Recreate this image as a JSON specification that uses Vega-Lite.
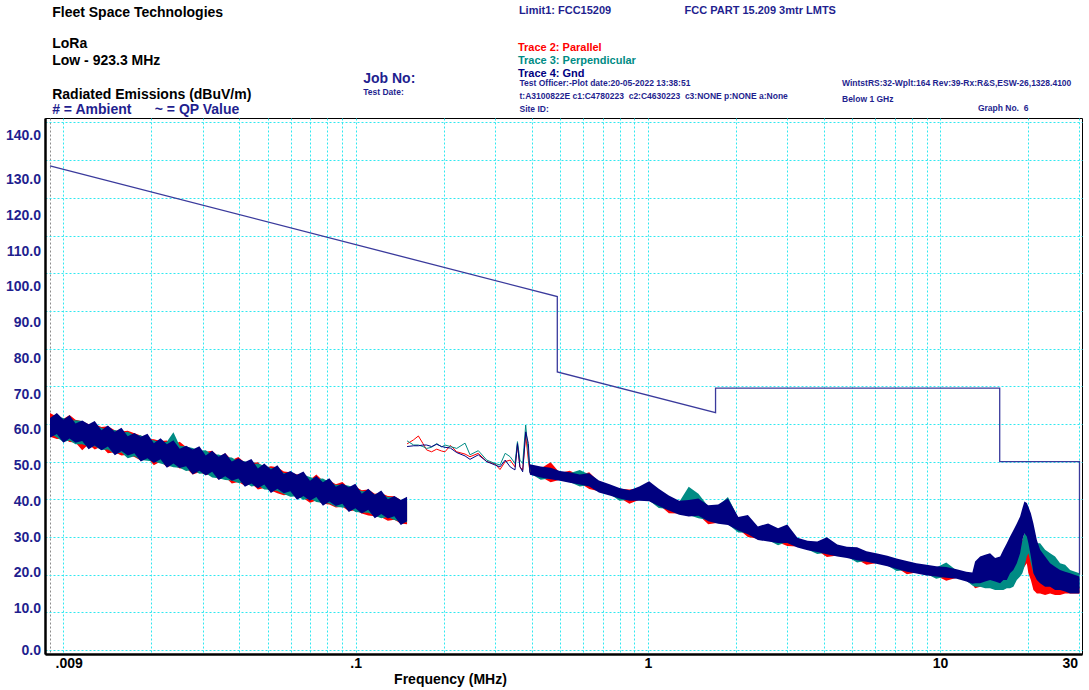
{
  "$schema": "https://vega.github.io/schema/vega-lite/v6.json",
  "width": 1037,
  "height": 536,
  "autosize": {"type": "none"},
  "padding": {"left": 45, "top": 118, "right": 7, "bottom": 36},
  "background": "#ffffff",
  "config": {
    "font": "Liberation Sans",
    "view": {"stroke": "#000000", "strokeWidth": 1}
  },
  "datasets": {
    "bands": [
      {"f":0.009,"s":"Parallel","seg":1,"lo":56.6,"hi":62.9},{"f":0.0095,"s":"Parallel","seg":1,"lo":56.0,"hi":61.9},{"f":0.01,"s":"Parallel","seg":1,"lo":56.1,"hi":61.3},{"f":0.0105,"s":"Parallel","seg":1,"lo":55.2,"hi":62.4},{"f":0.011,"s":"Parallel","seg":1,"lo":55.1,"hi":61.1},{"f":0.0116,"s":"Parallel","seg":1,"lo":53.0,"hi":60.7},{"f":0.0122,"s":"Parallel","seg":1,"lo":54.6,"hi":59.9},{"f":0.0128,"s":"Parallel","seg":1,"lo":53.2,"hi":59.9},{"f":0.0135,"s":"Parallel","seg":1,"lo":54.0,"hi":59.2},{"f":0.0142,"s":"Parallel","seg":1,"lo":52.2,"hi":59.4},{"f":0.015,"s":"Parallel","seg":1,"lo":52.5,"hi":58.3},{"f":0.0158,"s":"Parallel","seg":1,"lo":51.6,"hi":58.0},{"f":0.0166,"s":"Parallel","seg":1,"lo":51.8,"hi":58.2},{"f":0.0175,"s":"Parallel","seg":1,"lo":51.2,"hi":57.5},{"f":0.0184,"s":"Parallel","seg":1,"lo":50.3,"hi":56.9},{"f":0.0194,"s":"Parallel","seg":1,"lo":51.0,"hi":56.0},{"f":0.0204,"s":"Parallel","seg":1,"lo":49.0,"hi":55.9},{"f":0.0215,"s":"Parallel","seg":1,"lo":50.0,"hi":55.5},{"f":0.0226,"s":"Parallel","seg":1,"lo":48.6,"hi":55.6},{"f":0.0238,"s":"Parallel","seg":1,"lo":49.0,"hi":54.5},{"f":0.025,"s":"Parallel","seg":1,"lo":48.2,"hi":55.3},{"f":0.0263,"s":"Parallel","seg":1,"lo":48.3,"hi":53.9},{"f":0.0277,"s":"Parallel","seg":1,"lo":46.6,"hi":53.0},{"f":0.0292,"s":"Parallel","seg":1,"lo":47.2,"hi":53.1},{"f":0.0307,"s":"Parallel","seg":1,"lo":46.5,"hi":52.6},{"f":0.0323,"s":"Parallel","seg":1,"lo":46.4,"hi":52.9},{"f":0.034,"s":"Parallel","seg":1,"lo":45.3,"hi":51.2},{"f":0.0358,"s":"Parallel","seg":1,"lo":45.9,"hi":52.2},{"f":0.0377,"s":"Parallel","seg":1,"lo":44.2,"hi":50.4},{"f":0.0397,"s":"Parallel","seg":1,"lo":44.6,"hi":51.2},{"f":0.0418,"s":"Parallel","seg":1,"lo":43.6,"hi":49.7},{"f":0.044,"s":"Parallel","seg":1,"lo":44.2,"hi":49.6},{"f":0.0463,"s":"Parallel","seg":1,"lo":42.6,"hi":49.8},{"f":0.0487,"s":"Parallel","seg":1,"lo":43.0,"hi":48.3},{"f":0.0513,"s":"Parallel","seg":1,"lo":42.3,"hi":48.8},{"f":0.054,"s":"Parallel","seg":1,"lo":41.6,"hi":48.5},{"f":0.0568,"s":"Parallel","seg":1,"lo":41.1,"hi":47.4},{"f":0.0598,"s":"Parallel","seg":1,"lo":41.4,"hi":47.2},{"f":0.063,"s":"Parallel","seg":1,"lo":40.6,"hi":46.6},{"f":0.0663,"s":"Parallel","seg":1,"lo":40.3,"hi":46.9},{"f":0.0698,"s":"Parallel","seg":1,"lo":39.1,"hi":45.2},{"f":0.0734,"s":"Parallel","seg":1,"lo":39.7,"hi":46.6},{"f":0.0773,"s":"Parallel","seg":1,"lo":38.8,"hi":44.9},{"f":0.0813,"s":"Parallel","seg":1,"lo":38.6,"hi":45.0},{"f":0.0856,"s":"Parallel","seg":1,"lo":37.8,"hi":44.0},{"f":0.0901,"s":"Parallel","seg":1,"lo":38.0,"hi":44.6},{"f":0.0948,"s":"Parallel","seg":1,"lo":36.9,"hi":43.0},{"f":0.0998,"s":"Parallel","seg":1,"lo":37.0,"hi":43.3},{"f":0.105,"s":"Parallel","seg":1,"lo":36.2,"hi":42.4},{"f":0.1105,"s":"Parallel","seg":1,"lo":35.7,"hi":42.6},{"f":0.1163,"s":"Parallel","seg":1,"lo":35.5,"hi":41.5},{"f":0.1224,"s":"Parallel","seg":1,"lo":35.2,"hi":41.6},{"f":0.1289,"s":"Parallel","seg":1,"lo":34.3,"hi":40.9},{"f":0.1357,"s":"Parallel","seg":1,"lo":34.6,"hi":40.8},{"f":0.1428,"s":"Parallel","seg":1,"lo":33.6,"hi":39.8},{"f":0.15,"s":"Parallel","seg":1,"lo":33.4,"hi":39.4},
      {"f":0.395,"s":"Parallel","seg":2,"lo":46.8,"hi":48.8},{"f":0.43,"s":"Parallel","seg":2,"lo":46.0,"hi":48.2},{"f":0.465,"s":"Parallel","seg":2,"lo":44.5,"hi":49.8},{"f":0.5,"s":"Parallel","seg":2,"lo":45.2,"hi":47.0},{"f":0.54,"s":"Parallel","seg":2,"lo":44.6,"hi":47.6},{"f":0.585,"s":"Parallel","seg":2,"lo":44.3,"hi":46.4},{"f":0.63,"s":"Parallel","seg":2,"lo":42.7,"hi":47.2},{"f":0.68,"s":"Parallel","seg":2,"lo":42.1,"hi":44.6},{"f":0.74,"s":"Parallel","seg":2,"lo":41.3,"hi":43.6},{"f":0.8,"s":"Parallel","seg":2,"lo":40.4,"hi":42.8},{"f":0.865,"s":"Parallel","seg":2,"lo":38.8,"hi":42.6},{"f":0.935,"s":"Parallel","seg":2,"lo":39.9,"hi":42.8},{"f":1.01,"s":"Parallel","seg":2,"lo":39.7,"hi":44.0},{"f":1.09,"s":"Parallel","seg":2,"lo":38.6,"hi":42.2},{"f":1.18,"s":"Parallel","seg":2,"lo":36.3,"hi":40.6},{"f":1.28,"s":"Parallel","seg":2,"lo":36.2,"hi":39.3},{"f":1.38,"s":"Parallel","seg":2,"lo":35.7,"hi":40.8},{"f":1.49,"s":"Parallel","seg":2,"lo":35.8,"hi":39.6},{"f":1.61,"s":"Parallel","seg":2,"lo":33.4,"hi":38.0},{"f":1.74,"s":"Parallel","seg":2,"lo":33.8,"hi":38.2},{"f":1.88,"s":"Parallel","seg":2,"lo":33.4,"hi":39.4},{"f":2.04,"s":"Parallel","seg":2,"lo":32.1,"hi":34.8},{"f":2.2,"s":"Parallel","seg":2,"lo":30.0,"hi":34.5},{"f":2.38,"s":"Parallel","seg":2,"lo":29.5,"hi":32.4},{"f":2.58,"s":"Parallel","seg":2,"lo":29.1,"hi":32.8},{"f":2.79,"s":"Parallel","seg":2,"lo":28.6,"hi":32.0},{"f":3.0,"s":"Parallel","seg":2,"lo":27.6,"hi":32.4},{"f":3.25,"s":"Parallel","seg":2,"lo":27.5,"hi":29.6},{"f":3.52,"s":"Parallel","seg":2,"lo":26.7,"hi":28.6},{"f":3.8,"s":"Parallel","seg":2,"lo":26.4,"hi":28.4},{"f":4.1,"s":"Parallel","seg":2,"lo":24.7,"hi":28.8},{"f":4.45,"s":"Parallel","seg":2,"lo":25.1,"hi":27.9},{"f":4.8,"s":"Parallel","seg":2,"lo":24.7,"hi":27.0},{"f":5.2,"s":"Parallel","seg":2,"lo":24.0,"hi":26.8},{"f":5.6,"s":"Parallel","seg":2,"lo":22.6,"hi":25.8},{"f":6.1,"s":"Parallel","seg":2,"lo":23.1,"hi":25.3},{"f":6.6,"s":"Parallel","seg":2,"lo":22.4,"hi":24.6},{"f":7.1,"s":"Parallel","seg":2,"lo":21.9,"hi":23.9},{"f":7.7,"s":"Parallel","seg":2,"lo":20.1,"hi":23.2},{"f":8.3,"s":"Parallel","seg":2,"lo":20.6,"hi":22.6},{"f":9.0,"s":"Parallel","seg":2,"lo":20.1,"hi":22.1},{"f":9.7,"s":"Parallel","seg":2,"lo":19.7,"hi":21.7},{"f":10.5,"s":"Parallel","seg":2,"lo":18.4,"hi":21.5},{"f":11.4,"s":"Parallel","seg":2,"lo":19.2,"hi":21.0},{"f":12.3,"s":"Parallel","seg":2,"lo":18.4,"hi":20.4},{"f":12.9,"s":"Parallel","seg":2,"lo":17.4,"hi":20.0},{"f":13.18,"s":"Parallel","seg":2,"lo":16.4,"hi":18.6},{"f":13.71,"s":"Parallel","seg":2,"lo":16.8,"hi":18.6},{"f":14.26,"s":"Parallel","seg":2,"lo":16.8,"hi":18.6},{"f":14.83,"s":"Parallel","seg":2,"lo":16.8,"hi":19.1},{"f":15.43,"s":"Parallel","seg":2,"lo":16.4,"hi":18.6},{"f":16.05,"s":"Parallel","seg":2,"lo":16.4,"hi":18.6},{"f":16.47,"s":"Parallel","seg":2,"lo":16.8,"hi":19.5},{"f":16.92,"s":"Parallel","seg":2,"lo":17.7,"hi":21.2},{"f":17.36,"s":"Parallel","seg":2,"lo":18.2,"hi":23.9},{"f":17.82,"s":"Parallel","seg":2,"lo":18.6,"hi":26.6},{"f":18.31,"s":"Parallel","seg":2,"lo":19.9,"hi":27.4},{"f":18.79,"s":"Parallel","seg":2,"lo":20.4,"hi":28.3},{"f":19.13,"s":"Parallel","seg":2,"lo":21.2,"hi":29.2},{"f":19.44,"s":"Parallel","seg":2,"lo":22.1,"hi":30.1},{"f":19.81,"s":"Parallel","seg":2,"lo":23.0,"hi":29.6},{"f":20.06,"s":"Parallel","seg":2,"lo":20.4,"hi":29.2},{"f":20.45,"s":"Parallel","seg":2,"lo":18.6,"hi":25.7},{"f":20.87,"s":"Parallel","seg":2,"lo":15.9,"hi":23.0},{"f":21.44,"s":"Parallel","seg":2,"lo":15.0,"hi":21.2},{"f":22.0,"s":"Parallel","seg":2,"lo":15.0,"hi":20.4},{"f":22.88,"s":"Parallel","seg":2,"lo":14.6,"hi":19.5},{"f":23.8,"s":"Parallel","seg":2,"lo":15.0,"hi":18.6},{"f":24.75,"s":"Parallel","seg":2,"lo":14.6,"hi":18.2},{"f":25.75,"s":"Parallel","seg":2,"lo":14.6,"hi":17.7},{"f":26.78,"s":"Parallel","seg":2,"lo":15.0,"hi":17.7},{"f":27.86,"s":"Parallel","seg":2,"lo":15.0,"hi":17.7},{"f":28.98,"s":"Parallel","seg":2,"lo":15.0,"hi":17.2},{"f":30.0,"s":"Parallel","seg":2,"lo":15.0,"hi":16.8},
      {"f":0.009,"s":"Perpendicular","seg":1,"lo":57.5,"hi":61.6},{"f":0.0095,"s":"Perpendicular","seg":1,"lo":56.4,"hi":62.0},{"f":0.01,"s":"Perpendicular","seg":1,"lo":55.2,"hi":61.6},{"f":0.0105,"s":"Perpendicular","seg":1,"lo":55.6,"hi":60.8},{"f":0.011,"s":"Perpendicular","seg":1,"lo":54.6,"hi":61.0},{"f":0.0116,"s":"Perpendicular","seg":1,"lo":54.6,"hi":60.8},{"f":0.0122,"s":"Perpendicular","seg":1,"lo":54.0,"hi":59.6},{"f":0.0128,"s":"Perpendicular","seg":1,"lo":54.1,"hi":59.5},{"f":0.0135,"s":"Perpendicular","seg":1,"lo":53.1,"hi":59.0},{"f":0.0142,"s":"Perpendicular","seg":1,"lo":53.2,"hi":58.2},{"f":0.015,"s":"Perpendicular","seg":1,"lo":52.0,"hi":58.4},{"f":0.0158,"s":"Perpendicular","seg":1,"lo":52.4,"hi":57.6},{"f":0.0166,"s":"Perpendicular","seg":1,"lo":50.9,"hi":57.9},{"f":0.0175,"s":"Perpendicular","seg":1,"lo":51.4,"hi":57.0},{"f":0.0184,"s":"Perpendicular","seg":1,"lo":50.4,"hi":57.0},{"f":0.0194,"s":"Perpendicular","seg":1,"lo":50.2,"hi":55.8},{"f":0.0204,"s":"Perpendicular","seg":1,"lo":50.0,"hi":55.7},{"f":0.0215,"s":"Perpendicular","seg":1,"lo":49.5,"hi":55.1},{"f":0.0226,"s":"Perpendicular","seg":1,"lo":49.0,"hi":55.3},{"f":0.0238,"s":"Perpendicular","seg":1,"lo":48.5,"hi":57.8},{"f":0.025,"s":"Perpendicular","seg":1,"lo":48.4,"hi":54.2},{"f":0.0263,"s":"Perpendicular","seg":1,"lo":47.5,"hi":54.0},{"f":0.0277,"s":"Perpendicular","seg":1,"lo":47.8,"hi":53.6},{"f":0.0292,"s":"Perpendicular","seg":1,"lo":46.8,"hi":52.9},{"f":0.0307,"s":"Perpendicular","seg":1,"lo":46.9,"hi":53.0},{"f":0.0323,"s":"Perpendicular","seg":1,"lo":45.8,"hi":51.8},{"f":0.034,"s":"Perpendicular","seg":1,"lo":45.6,"hi":51.9},{"f":0.0358,"s":"Perpendicular","seg":1,"lo":45.1,"hi":51.2},{"f":0.0377,"s":"Perpendicular","seg":1,"lo":45.0,"hi":51.1},{"f":0.0397,"s":"Perpendicular","seg":1,"lo":44.3,"hi":50.0},{"f":0.0418,"s":"Perpendicular","seg":1,"lo":44.5,"hi":50.1},{"f":0.044,"s":"Perpendicular","seg":1,"lo":43.4,"hi":49.3},{"f":0.0463,"s":"Perpendicular","seg":1,"lo":43.7,"hi":49.5},{"f":0.0487,"s":"Perpendicular","seg":1,"lo":42.6,"hi":48.9},{"f":0.0513,"s":"Perpendicular","seg":1,"lo":42.5,"hi":48.3},{"f":0.054,"s":"Perpendicular","seg":1,"lo":42.2,"hi":48.0},{"f":0.0568,"s":"Perpendicular","seg":1,"lo":41.4,"hi":47.0},{"f":0.0598,"s":"Perpendicular","seg":1,"lo":40.7,"hi":47.0},{"f":0.063,"s":"Perpendicular","seg":1,"lo":40.8,"hi":46.3},{"f":0.0663,"s":"Perpendicular","seg":1,"lo":39.9,"hi":46.5},{"f":0.0698,"s":"Perpendicular","seg":1,"lo":40.2,"hi":45.9},{"f":0.0734,"s":"Perpendicular","seg":1,"lo":39.3,"hi":45.4},{"f":0.0773,"s":"Perpendicular","seg":1,"lo":39.0,"hi":45.5},{"f":0.0813,"s":"Perpendicular","seg":1,"lo":38.9,"hi":44.6},{"f":0.0856,"s":"Perpendicular","seg":1,"lo":38.0,"hi":43.8},{"f":0.0901,"s":"Perpendicular","seg":1,"lo":37.8,"hi":43.9},{"f":0.0948,"s":"Perpendicular","seg":1,"lo":37.9,"hi":43.6},{"f":0.0998,"s":"Perpendicular","seg":1,"lo":36.6,"hi":43.0},{"f":0.105,"s":"Perpendicular","seg":1,"lo":36.5,"hi":42.1},{"f":0.1105,"s":"Perpendicular","seg":1,"lo":36.4,"hi":42.2},{"f":0.1163,"s":"Perpendicular","seg":1,"lo":35.6,"hi":41.3},{"f":0.1224,"s":"Perpendicular","seg":1,"lo":35.0,"hi":41.3},{"f":0.1289,"s":"Perpendicular","seg":1,"lo":35.3,"hi":40.6},{"f":0.1357,"s":"Perpendicular","seg":1,"lo":34.5,"hi":40.6},{"f":0.1428,"s":"Perpendicular","seg":1,"lo":34.0,"hi":39.4},{"f":0.15,"s":"Perpendicular","seg":1,"lo":33.9,"hi":39.8},
      {"f":0.395,"s":"Perpendicular","seg":2,"lo":46.9,"hi":49.0},{"f":0.43,"s":"Perpendicular","seg":2,"lo":45.2,"hi":48.4},{"f":0.465,"s":"Perpendicular","seg":2,"lo":45.6,"hi":48.1},{"f":0.5,"s":"Perpendicular","seg":2,"lo":45.4,"hi":47.2},{"f":0.54,"s":"Perpendicular","seg":2,"lo":44.6,"hi":46.9},{"f":0.585,"s":"Perpendicular","seg":2,"lo":43.4,"hi":47.8},{"f":0.63,"s":"Perpendicular","seg":2,"lo":43.8,"hi":46.6},{"f":0.68,"s":"Perpendicular","seg":2,"lo":42.1,"hi":44.7},{"f":0.74,"s":"Perpendicular","seg":2,"lo":41.4,"hi":43.7},{"f":0.8,"s":"Perpendicular","seg":2,"lo":39.6,"hi":42.7},{"f":0.865,"s":"Perpendicular","seg":2,"lo":39.9,"hi":42.1},{"f":0.935,"s":"Perpendicular","seg":2,"lo":40.1,"hi":43.1},{"f":1.01,"s":"Perpendicular","seg":2,"lo":39.7,"hi":44.2},{"f":1.09,"s":"Perpendicular","seg":2,"lo":37.7,"hi":42.5},{"f":1.18,"s":"Perpendicular","seg":2,"lo":37.4,"hi":40.7},{"f":1.28,"s":"Perpendicular","seg":2,"lo":36.2,"hi":39.3},{"f":1.38,"s":"Perpendicular","seg":2,"lo":35.8,"hi":43.3},{"f":1.49,"s":"Perpendicular","seg":2,"lo":35.0,"hi":41.5},{"f":1.61,"s":"Perpendicular","seg":2,"lo":34.5,"hi":38.1},{"f":1.74,"s":"Perpendicular","seg":2,"lo":34.0,"hi":38.3},{"f":1.88,"s":"Perpendicular","seg":2,"lo":33.4,"hi":40.6},{"f":2.04,"s":"Perpendicular","seg":2,"lo":31.2,"hi":35.0},{"f":2.2,"s":"Perpendicular","seg":2,"lo":31.1,"hi":35.0},{"f":2.38,"s":"Perpendicular","seg":2,"lo":29.5,"hi":32.5},{"f":2.58,"s":"Perpendicular","seg":2,"lo":29.2,"hi":33.3},{"f":2.79,"s":"Perpendicular","seg":2,"lo":27.8,"hi":32.0},{"f":3.0,"s":"Perpendicular","seg":2,"lo":28.7,"hi":32.8},{"f":3.25,"s":"Perpendicular","seg":2,"lo":27.7,"hi":29.5},{"f":3.52,"s":"Perpendicular","seg":2,"lo":26.7,"hi":28.7},{"f":3.8,"s":"Perpendicular","seg":2,"lo":25.5,"hi":28.5},{"f":4.1,"s":"Perpendicular","seg":2,"lo":25.8,"hi":29.2},{"f":4.45,"s":"Perpendicular","seg":2,"lo":25.1,"hi":27.7},{"f":4.8,"s":"Perpendicular","seg":2,"lo":24.8,"hi":27.1},{"f":5.2,"s":"Perpendicular","seg":2,"lo":23.2,"hi":27.0},{"f":5.6,"s":"Perpendicular","seg":2,"lo":23.7,"hi":25.9},{"f":6.1,"s":"Perpendicular","seg":2,"lo":23.3,"hi":25.3},{"f":6.6,"s":"Perpendicular","seg":2,"lo":22.4,"hi":24.7},{"f":7.1,"s":"Perpendicular","seg":2,"lo":21.0,"hi":24.0},{"f":7.7,"s":"Perpendicular","seg":2,"lo":21.2,"hi":23.3},{"f":8.3,"s":"Perpendicular","seg":2,"lo":20.6,"hi":22.7},{"f":9.0,"s":"Perpendicular","seg":2,"lo":20.2,"hi":22.3},{"f":9.7,"s":"Perpendicular","seg":2,"lo":18.9,"hi":21.9},{"f":10.5,"s":"Perpendicular","seg":2,"lo":19.5,"hi":23.2},{"f":11.4,"s":"Perpendicular","seg":2,"lo":19.4,"hi":21.1},{"f":12.3,"s":"Perpendicular","seg":2,"lo":18.4,"hi":20.5},{"f":12.9,"s":"Perpendicular","seg":2,"lo":17.1,"hi":20.3},{"f":13.18,"s":"Perpendicular","seg":2,"lo":16.8,"hi":20.4},{"f":13.71,"s":"Perpendicular","seg":2,"lo":16.8,"hi":20.8},{"f":14.26,"s":"Perpendicular","seg":2,"lo":16.4,"hi":20.4},{"f":14.83,"s":"Perpendicular","seg":2,"lo":16.4,"hi":20.8},{"f":15.43,"s":"Perpendicular","seg":2,"lo":15.9,"hi":19.5},{"f":16.05,"s":"Perpendicular","seg":2,"lo":15.9,"hi":19.5},{"f":16.47,"s":"Perpendicular","seg":2,"lo":15.9,"hi":19.9},{"f":16.92,"s":"Perpendicular","seg":2,"lo":16.4,"hi":20.4},{"f":17.36,"s":"Perpendicular","seg":2,"lo":16.4,"hi":20.8},{"f":17.82,"s":"Perpendicular","seg":2,"lo":16.8,"hi":22.1},{"f":18.31,"s":"Perpendicular","seg":2,"lo":18.6,"hi":24.8},{"f":18.79,"s":"Perpendicular","seg":2,"lo":19.5,"hi":26.6},{"f":19.13,"s":"Perpendicular","seg":2,"lo":20.4,"hi":29.2},{"f":19.44,"s":"Perpendicular","seg":2,"lo":22.1,"hi":31.0},{"f":19.81,"s":"Perpendicular","seg":2,"lo":24.8,"hi":32.3},{"f":20.06,"s":"Perpendicular","seg":2,"lo":25.7,"hi":33.2},{"f":20.45,"s":"Perpendicular","seg":2,"lo":23.0,"hi":31.8},{"f":20.87,"s":"Perpendicular","seg":2,"lo":20.4,"hi":29.2},{"f":21.44,"s":"Perpendicular","seg":2,"lo":19.5,"hi":28.3},{"f":22.0,"s":"Perpendicular","seg":2,"lo":18.6,"hi":28.3},{"f":22.88,"s":"Perpendicular","seg":2,"lo":18.6,"hi":26.6},{"f":23.8,"s":"Perpendicular","seg":2,"lo":18.6,"hi":25.7},{"f":24.75,"s":"Perpendicular","seg":2,"lo":17.7,"hi":24.8},{"f":25.75,"s":"Perpendicular","seg":2,"lo":16.8,"hi":23.0},{"f":26.78,"s":"Perpendicular","seg":2,"lo":16.8,"hi":22.6},{"f":27.86,"s":"Perpendicular","seg":2,"lo":16.8,"hi":21.2},{"f":28.98,"s":"Perpendicular","seg":2,"lo":16.4,"hi":20.8},{"f":30.0,"s":"Perpendicular","seg":2,"lo":16.4,"hi":20.4},
      {"f":0.009,"s":"Gnd","seg":1,"lo":56.3,"hi":61.6},{"f":0.0095,"s":"Gnd","seg":1,"lo":57.3,"hi":62.9},{"f":0.01,"s":"Gnd","seg":1,"lo":55.0,"hi":61.2},{"f":0.0105,"s":"Gnd","seg":1,"lo":56.1,"hi":62.3},{"f":0.011,"s":"Gnd","seg":1,"lo":55.0,"hi":60.1},{"f":0.0116,"s":"Gnd","seg":1,"lo":55.5,"hi":60.9},{"f":0.0122,"s":"Gnd","seg":1,"lo":53.3,"hi":59.9},{"f":0.0128,"s":"Gnd","seg":1,"lo":54.3,"hi":60.8},{"f":0.0135,"s":"Gnd","seg":1,"lo":53.0,"hi":58.3},{"f":0.0142,"s":"Gnd","seg":1,"lo":54.0,"hi":59.6},{"f":0.015,"s":"Gnd","seg":1,"lo":51.7,"hi":57.9},{"f":0.0158,"s":"Gnd","seg":1,"lo":52.8,"hi":59.0},{"f":0.0166,"s":"Gnd","seg":1,"lo":51.6,"hi":56.7},{"f":0.0175,"s":"Gnd","seg":1,"lo":52.2,"hi":57.6},{"f":0.0184,"s":"Gnd","seg":1,"lo":50.0,"hi":56.6},{"f":0.0194,"s":"Gnd","seg":1,"lo":50.9,"hi":57.4},{"f":0.0204,"s":"Gnd","seg":1,"lo":49.6,"hi":54.9},{"f":0.0215,"s":"Gnd","seg":1,"lo":50.6,"hi":56.2},{"f":0.0226,"s":"Gnd","seg":1,"lo":48.4,"hi":54.6},{"f":0.0238,"s":"Gnd","seg":1,"lo":49.5,"hi":55.7},{"f":0.025,"s":"Gnd","seg":1,"lo":48.3,"hi":53.4},{"f":0.0263,"s":"Gnd","seg":1,"lo":48.8,"hi":54.2},{"f":0.0277,"s":"Gnd","seg":1,"lo":46.6,"hi":53.2},{"f":0.0292,"s":"Gnd","seg":1,"lo":47.6,"hi":54.1},{"f":0.0307,"s":"Gnd","seg":1,"lo":46.3,"hi":51.6},{"f":0.0323,"s":"Gnd","seg":1,"lo":47.3,"hi":52.9},{"f":0.034,"s":"Gnd","seg":1,"lo":45.1,"hi":51.3},{"f":0.0358,"s":"Gnd","seg":1,"lo":46.1,"hi":52.3},{"f":0.0377,"s":"Gnd","seg":1,"lo":44.9,"hi":50.0},{"f":0.0397,"s":"Gnd","seg":1,"lo":45.5,"hi":50.9},{"f":0.0418,"s":"Gnd","seg":1,"lo":43.3,"hi":49.9},{"f":0.044,"s":"Gnd","seg":1,"lo":44.2,"hi":50.7},{"f":0.0463,"s":"Gnd","seg":1,"lo":42.9,"hi":48.2},{"f":0.0487,"s":"Gnd","seg":1,"lo":43.9,"hi":49.5},{"f":0.0513,"s":"Gnd","seg":1,"lo":41.7,"hi":47.9},{"f":0.054,"s":"Gnd","seg":1,"lo":42.8,"hi":49.0},{"f":0.0568,"s":"Gnd","seg":1,"lo":41.6,"hi":46.7},{"f":0.0598,"s":"Gnd","seg":1,"lo":42.1,"hi":47.5},{"f":0.063,"s":"Gnd","seg":1,"lo":39.9,"hi":46.5},{"f":0.0663,"s":"Gnd","seg":1,"lo":40.9,"hi":47.4},{"f":0.0698,"s":"Gnd","seg":1,"lo":39.6,"hi":44.9},{"f":0.0734,"s":"Gnd","seg":1,"lo":40.6,"hi":46.2},{"f":0.0773,"s":"Gnd","seg":1,"lo":38.3,"hi":44.5},{"f":0.0813,"s":"Gnd","seg":1,"lo":39.4,"hi":45.6},{"f":0.0856,"s":"Gnd","seg":1,"lo":38.2,"hi":43.3},{"f":0.0901,"s":"Gnd","seg":1,"lo":38.8,"hi":44.2},{"f":0.0948,"s":"Gnd","seg":1,"lo":36.6,"hi":43.2},{"f":0.0998,"s":"Gnd","seg":1,"lo":37.6,"hi":44.1},{"f":0.105,"s":"Gnd","seg":1,"lo":36.2,"hi":41.5},{"f":0.1105,"s":"Gnd","seg":1,"lo":37.2,"hi":42.8},{"f":0.1163,"s":"Gnd","seg":1,"lo":35.0,"hi":41.2},{"f":0.1224,"s":"Gnd","seg":1,"lo":36.1,"hi":42.3},{"f":0.1289,"s":"Gnd","seg":1,"lo":34.9,"hi":40.0},{"f":0.1357,"s":"Gnd","seg":1,"lo":35.5,"hi":40.9},{"f":0.1428,"s":"Gnd","seg":1,"lo":33.2,"hi":39.8},{"f":0.15,"s":"Gnd","seg":1,"lo":34.2,"hi":40.7},
      {"f":0.395,"s":"Gnd","seg":2,"lo":46.5,"hi":49.3},{"f":0.43,"s":"Gnd","seg":2,"lo":45.8,"hi":48.7},{"f":0.465,"s":"Gnd","seg":2,"lo":45.3,"hi":48.4},{"f":0.5,"s":"Gnd","seg":2,"lo":44.9,"hi":47.5},{"f":0.54,"s":"Gnd","seg":2,"lo":44.4,"hi":47.2},{"f":0.585,"s":"Gnd","seg":2,"lo":43.9,"hi":46.6},{"f":0.63,"s":"Gnd","seg":2,"lo":43.4,"hi":46.9},{"f":0.68,"s":"Gnd","seg":2,"lo":41.8,"hi":45.0},{"f":0.74,"s":"Gnd","seg":2,"lo":41.0,"hi":44.0},{"f":0.8,"s":"Gnd","seg":2,"lo":40.2,"hi":43.0},{"f":0.865,"s":"Gnd","seg":2,"lo":39.6,"hi":42.4},{"f":0.935,"s":"Gnd","seg":2,"lo":39.6,"hi":43.4},{"f":1.01,"s":"Gnd","seg":2,"lo":39.5,"hi":44.8},{"f":1.09,"s":"Gnd","seg":2,"lo":38.2,"hi":42.8},{"f":1.18,"s":"Gnd","seg":2,"lo":37.0,"hi":41.0},{"f":1.28,"s":"Gnd","seg":2,"lo":35.9,"hi":39.6},{"f":1.38,"s":"Gnd","seg":2,"lo":35.4,"hi":39.8},{"f":1.49,"s":"Gnd","seg":2,"lo":35.6,"hi":40.2},{"f":1.61,"s":"Gnd","seg":2,"lo":34.2,"hi":38.4},{"f":1.74,"s":"Gnd","seg":2,"lo":33.5,"hi":38.6},{"f":1.88,"s":"Gnd","seg":2,"lo":33.2,"hi":40.2},{"f":2.04,"s":"Gnd","seg":2,"lo":31.7,"hi":35.3},{"f":2.2,"s":"Gnd","seg":2,"lo":30.7,"hi":35.8},{"f":2.38,"s":"Gnd","seg":2,"lo":29.2,"hi":32.8},{"f":2.58,"s":"Gnd","seg":2,"lo":28.8,"hi":33.6},{"f":2.79,"s":"Gnd","seg":2,"lo":28.4,"hi":32.3},{"f":3.0,"s":"Gnd","seg":2,"lo":28.4,"hi":33.3},{"f":3.25,"s":"Gnd","seg":2,"lo":27.2,"hi":29.8},{"f":3.52,"s":"Gnd","seg":2,"lo":26.5,"hi":29.0},{"f":3.8,"s":"Gnd","seg":2,"lo":26.0,"hi":28.8},{"f":4.1,"s":"Gnd","seg":2,"lo":25.4,"hi":29.9},{"f":4.45,"s":"Gnd","seg":2,"lo":24.8,"hi":28.0},{"f":4.8,"s":"Gnd","seg":2,"lo":24.4,"hi":27.4},{"f":5.2,"s":"Gnd","seg":2,"lo":23.8,"hi":27.3},{"f":5.6,"s":"Gnd","seg":2,"lo":23.4,"hi":26.2},{"f":6.1,"s":"Gnd","seg":2,"lo":22.8,"hi":25.6},{"f":6.6,"s":"Gnd","seg":2,"lo":22.2,"hi":25.0},{"f":7.1,"s":"Gnd","seg":2,"lo":21.5,"hi":24.3},{"f":7.7,"s":"Gnd","seg":2,"lo":20.8,"hi":23.6},{"f":8.3,"s":"Gnd","seg":2,"lo":20.3,"hi":23.0},{"f":9.0,"s":"Gnd","seg":2,"lo":19.8,"hi":22.6},{"f":9.7,"s":"Gnd","seg":2,"lo":19.5,"hi":22.2},{"f":10.5,"s":"Gnd","seg":2,"lo":19.2,"hi":22.0},{"f":11.4,"s":"Gnd","seg":2,"lo":18.9,"hi":21.4},{"f":12.3,"s":"Gnd","seg":2,"lo":18.2,"hi":20.8},{"f":12.9,"s":"Gnd","seg":2,"lo":17.6,"hi":20.6},{"f":13.18,"s":"Gnd","seg":2,"lo":17.7,"hi":23.5},{"f":13.71,"s":"Gnd","seg":2,"lo":17.7,"hi":24.8},{"f":14.26,"s":"Gnd","seg":2,"lo":18.2,"hi":25.3},{"f":14.83,"s":"Gnd","seg":2,"lo":18.6,"hi":25.7},{"f":15.43,"s":"Gnd","seg":2,"lo":18.2,"hi":24.4},{"f":16.05,"s":"Gnd","seg":2,"lo":17.7,"hi":24.8},{"f":16.47,"s":"Gnd","seg":2,"lo":18.6,"hi":26.6},{"f":16.92,"s":"Gnd","seg":2,"lo":18.6,"hi":28.3},{"f":17.36,"s":"Gnd","seg":2,"lo":20.4,"hi":30.1},{"f":17.82,"s":"Gnd","seg":2,"lo":21.2,"hi":31.8},{"f":18.31,"s":"Gnd","seg":2,"lo":23.0,"hi":33.6},{"f":18.79,"s":"Gnd","seg":2,"lo":25.7,"hi":35.4},{"f":19.13,"s":"Gnd","seg":2,"lo":29.2,"hi":37.6},{"f":19.44,"s":"Gnd","seg":2,"lo":31.0,"hi":39.4},{"f":19.81,"s":"Gnd","seg":2,"lo":30.1,"hi":39.0},{"f":20.06,"s":"Gnd","seg":2,"lo":28.3,"hi":38.0},{"f":20.45,"s":"Gnd","seg":2,"lo":24.8,"hi":36.3},{"f":20.87,"s":"Gnd","seg":2,"lo":20.4,"hi":33.6},{"f":21.44,"s":"Gnd","seg":2,"lo":18.6,"hi":29.2},{"f":22.0,"s":"Gnd","seg":2,"lo":17.7,"hi":26.6},{"f":22.88,"s":"Gnd","seg":2,"lo":16.8,"hi":24.8},{"f":23.8,"s":"Gnd","seg":2,"lo":16.8,"hi":23.0},{"f":24.75,"s":"Gnd","seg":2,"lo":15.9,"hi":22.1},{"f":25.75,"s":"Gnd","seg":2,"lo":15.9,"hi":21.2},{"f":26.78,"s":"Gnd","seg":2,"lo":15.5,"hi":20.8},{"f":27.86,"s":"Gnd","seg":2,"lo":15.0,"hi":20.4},{"f":28.98,"s":"Gnd","seg":2,"lo":15.0,"hi":19.9},{"f":30.0,"s":"Gnd","seg":2,"lo":15.0,"hi":19.5}
    ],
    "lines": [
      {"f":0.15,"s":"Parallel","v":54.7},{"f":0.158,"s":"Parallel","v":55.8},{"f":0.164,"s":"Parallel","v":56.8},{"f":0.17,"s":"Parallel","v":54.8},{"f":0.175,"s":"Parallel","v":53.1},{"f":0.182,"s":"Parallel","v":52.6},{"f":0.1895,"s":"Parallel","v":53.3},{"f":0.197,"s":"Parallel","v":52.8},{"f":0.2023,"s":"Parallel","v":52.6},{"f":0.211,"s":"Parallel","v":54.3},{"f":0.2218,"s":"Parallel","v":52.6},{"f":0.2369,"s":"Parallel","v":52.0},{"f":0.2463,"s":"Parallel","v":51.3},{"f":0.263,"s":"Parallel","v":52.2},{"f":0.281,"s":"Parallel","v":50.0},{"f":0.3,"s":"Parallel","v":49.4},{"f":0.312,"s":"Parallel","v":47.9},{"f":0.325,"s":"Parallel","v":50.0},{"f":0.338,"s":"Parallel","v":50.4},{"f":0.351,"s":"Parallel","v":48.6},{"f":0.358,"s":"Parallel","v":54.4},{"f":0.365,"s":"Parallel","v":48.6},{"f":0.373,"s":"Parallel","v":47.8},{"f":0.382,"s":"Parallel","v":57.1},{"f":0.39,"s":"Parallel","v":50.4},{"f":0.395,"s":"Parallel","v":47.3},
      {"f":0.15,"s":"Perpendicular","v":55.5},{"f":0.158,"s":"Perpendicular","v":54.4},{"f":0.164,"s":"Perpendicular","v":54.4},{"f":0.17,"s":"Perpendicular","v":54.0},{"f":0.175,"s":"Perpendicular","v":53.5},{"f":0.182,"s":"Perpendicular","v":53.8},{"f":0.1895,"s":"Perpendicular","v":54.8},{"f":0.197,"s":"Perpendicular","v":53.9},{"f":0.2023,"s":"Perpendicular","v":54.4},{"f":0.211,"s":"Perpendicular","v":54.0},{"f":0.2218,"s":"Perpendicular","v":53.5},{"f":0.2369,"s":"Perpendicular","v":54.9},{"f":0.2463,"s":"Perpendicular","v":51.8},{"f":0.263,"s":"Perpendicular","v":52.9},{"f":0.281,"s":"Perpendicular","v":50.4},{"f":0.3,"s":"Perpendicular","v":49.5},{"f":0.312,"s":"Perpendicular","v":49.1},{"f":0.325,"s":"Perpendicular","v":52.2},{"f":0.338,"s":"Perpendicular","v":51.3},{"f":0.351,"s":"Perpendicular","v":49.5},{"f":0.358,"s":"Perpendicular","v":55.3},{"f":0.365,"s":"Perpendicular","v":50.4},{"f":0.373,"s":"Perpendicular","v":49.5},{"f":0.382,"s":"Perpendicular","v":59.7},{"f":0.39,"s":"Perpendicular","v":52.0},{"f":0.395,"s":"Perpendicular","v":47.3},
      {"f":0.15,"s":"Gnd","v":54.0},{"f":0.158,"s":"Gnd","v":54.2},{"f":0.164,"s":"Gnd","v":54.2},{"f":0.17,"s":"Gnd","v":54.4},{"f":0.175,"s":"Gnd","v":54.4},{"f":0.182,"s":"Gnd","v":54.0},{"f":0.1895,"s":"Gnd","v":54.6},{"f":0.197,"s":"Gnd","v":54.0},{"f":0.2023,"s":"Gnd","v":53.8},{"f":0.211,"s":"Gnd","v":53.6},{"f":0.2218,"s":"Gnd","v":52.4},{"f":0.2369,"s":"Gnd","v":51.5},{"f":0.2463,"s":"Gnd","v":50.6},{"f":0.263,"s":"Gnd","v":51.8},{"f":0.281,"s":"Gnd","v":50.0},{"f":0.3,"s":"Gnd","v":49.1},{"f":0.312,"s":"Gnd","v":48.6},{"f":0.325,"s":"Gnd","v":50.4},{"f":0.338,"s":"Gnd","v":48.6},{"f":0.351,"s":"Gnd","v":47.8},{"f":0.358,"s":"Gnd","v":54.8},{"f":0.365,"s":"Gnd","v":48.6},{"f":0.373,"s":"Gnd","v":47.3},{"f":0.382,"s":"Gnd","v":57.9},{"f":0.39,"s":"Gnd","v":54.8},{"f":0.395,"s":"Gnd","v":46.9}
    ],
    "limit": [
      {"i":1,"f":0.009,"v":128.5},{"i":2,"f":0.49,"v":93.8},{"i":3,"f":0.49,"v":73.8},{"i":4,"f":1.705,"v":63.0},{"i":5,"f":1.705,"v":69.5},{"i":6,"f":16.0,"v":69.5},{"i":7,"f":16.0,"v":50.0},{"i":8,"f":30.0,"v":50.0},{"i":9,"f":30.0,"v":20.0}
    ]
  },
  "resolve": {"axis": {"x": "independent", "y": "independent"}},
  "layer": [
    {
      "data": {"name": "bands"},
      "mark": {"type": "area", "interpolate": "linear"},
      "encoding": {
        "x": {"field": "f", "type": "quantitative",
          "scale": {"type": "log", "domain": [0.008652, 30.6], "nice": false},
          "axis": {
            "orient": "bottom",
            "values": [0.009,0.01,0.02,0.03,0.04,0.05,0.06,0.07,0.08,0.09,0.1,0.2,0.3,0.4,0.5,0.6,0.7,0.8,0.9,1,2,3,4,5,6,7,8,9,10,20,30],
            "labelExpr": "datum.value == 0.009 ? '.009' : datum.value == 0.1 ? '.1' : datum.value == 1 ? '1' : datum.value == 10 ? '10' : datum.value == 30 ? '30' : ''",
            "labelFontSize": 14, "labelFontWeight": "bold", "labelColor": "#000000",
            "labelPadding": 2, "labelOverlap": false, "labelBound": false, "labelFlush": false,
            "labelAlign": {"condition": [{"test": "datum.value < 0.0095", "value": "left"}, {"test": "datum.value > 29", "value": "right"}], "value": "center"},
            "labelOffset": {"condition": [{"test": "datum.value < 0.0095", "value": 5}, {"test": "datum.value > 29", "value": -2}], "value": 0},
            "ticks": false, "tickSize": 0,
            "domain": true, "domainColor": "#000000", "domainWidth": 2.5,
            "grid": true, "gridDash": [2, 2], "gridWidth": 1,
            "gridColor": {"condition": {"test": "datum.value < 0.0095", "value": "#8c8c8c"}, "value": "#30e8f0"},
            "title": "Frequency (MHz)", "titleFontSize": 14, "titleFontWeight": "bold", "titleColor": "#000000",
            "titleX": 405, "titleY": 25, "titleAlign": "center", "titleBaseline": "middle"
          }
        },
        "y": {"field": "hi", "type": "quantitative",
          "scale": {"domain": [-1.06, 141.19], "nice": false, "zero": false},
          "axis": {
            "orient": "left",
            "values": [0,10,20,30,40,50,60,70,80,90,100,110,120,130,140],
            "format": ".1f",
            "labelFontSize": 14, "labelFontWeight": "bold", "labelColor": "#1f1f8f",
            "labelPadding": 4.5, "labelOverlap": false, "labelBound": false, "labelFlush": false,
            "labelOffset": {"condition": [
              {"test": "datum.value == 10", "value": -4.3},
              {"test": "datum.value == 20", "value": -1.8},
              {"test": "datum.value == 30", "value": 0.2},
              {"test": "datum.value == 40", "value": 2.1},
              {"test": "datum.value == 50", "value": 4.0},
              {"test": "datum.value == 60", "value": 6.0},
              {"test": "datum.value == 70", "value": 7.9},
              {"test": "datum.value == 80", "value": 9.8},
              {"test": "datum.value == 90", "value": 11.8},
              {"test": "datum.value == 100", "value": 13.7},
              {"test": "datum.value == 110", "value": 15.6},
              {"test": "datum.value == 120", "value": 17.5},
              {"test": "datum.value == 130", "value": 19.3},
              {"test": "datum.value == 140", "value": 13.3}
            ], "value": 0.8},
            "ticks": false, "tickSize": 0,
            "domain": true, "domainColor": "#000000", "domainWidth": 2.5,
            "grid": true, "gridColor": "#30e8f0", "gridDash": [2, 2], "gridWidth": 1,
            "title": ["LoRa", "Low - 923.3 MHz"],
            "titleFontSize": 14, "titleFontWeight": "bold", "titleColor": "#000000",
            "titleAngle": 0, "titleAlign": "left", "titleBaseline": "top",
            "titleX": 6.7, "titleY": -81.2, "titleLineHeight": 16.3, "titleLimit": 1000
          }
        },
        "y2": {"field": "lo"},
        "color": {"field": "s", "type": "nominal",
          "scale": {"domain": ["Parallel", "Perpendicular", "Gnd"], "range": ["#ff0000", "#008b84", "#000080"]},
          "legend": {
            "orient": "none", "legendX": 473.9, "legendY": -112.7, "padding": 0,
            "title": "Limit1: FCC15209\u00a0\u00a0\u00a0\u00a0\u00a0\u00a0\u00a0\u00a0\u00a0\u00a0\u00a0\u00a0\u00a0\u00a0\u00a0\u00a0\u00a0\u00a0\u00a0\u00a0\u00a0\u00a0\u00a0\u00a0FCC PART 15.209 3mtr LMTS",
            "titleColor": "#1f1f8f", "titleFontSize": 11, "titleFontWeight": "bold", "titleLimit": 1000,
            "titlePadding": 26, "titleAnchor": "start", "titleBaseline": "top",
            "labelExpr": "datum.value == 'Parallel' ? 'Trace 2: Parallel' : datum.value == 'Perpendicular' ? 'Trace 3: Perpendicular' : 'Trace 4: Gnd'",
            "labelFontSize": 11, "labelFontWeight": "bold", "labelOffset": -12, "labelLimit": 400,
            "symbolSize": 0, "symbolOpacity": 0, "symbolStrokeWidth": 0, "rowPadding": 1.2,
            "encode": {"labels": {"update": {"fill": {"scale": "color", "field": "value"}}}}
          }
        },
        "detail": {"field": "seg", "type": "nominal"}
      }
    },
    {
      "data": {"name": "lines"},
      "mark": {"type": "line", "strokeWidth": 1, "interpolate": "linear"},
      "encoding": {
        "x": {"field": "f", "type": "quantitative",
          "scale": {"type": "log", "domain": [0.008652, 30.6], "nice": false}, "axis": null},
        "y": {"field": "v", "type": "quantitative",
          "scale": {"domain": [-1.06, 141.19], "nice": false, "zero": false}, "axis": null},
        "color": {"field": "s", "type": "nominal",
          "scale": {"domain": ["Parallel", "Perpendicular", "Gnd"], "range": ["#ff0000", "#008b84", "#000080"]},
          "legend": {
            "orient": "none", "legendX": 473.9, "legendY": -112.7, "padding": 0,
            "title": "Limit1: FCC15209\u00a0\u00a0\u00a0\u00a0\u00a0\u00a0\u00a0\u00a0\u00a0\u00a0\u00a0\u00a0\u00a0\u00a0\u00a0\u00a0\u00a0\u00a0\u00a0\u00a0\u00a0\u00a0\u00a0\u00a0FCC PART 15.209 3mtr LMTS",
            "titleColor": "#1f1f8f", "titleFontSize": 11, "titleFontWeight": "bold", "titleLimit": 1000,
            "titlePadding": 26, "titleAnchor": "start", "titleBaseline": "top",
            "labelExpr": "datum.value == 'Parallel' ? 'Trace 2: Parallel' : datum.value == 'Perpendicular' ? 'Trace 3: Perpendicular' : 'Trace 4: Gnd'",
            "labelFontSize": 11, "labelFontWeight": "bold", "labelOffset": -12, "labelLimit": 400,
            "symbolSize": 0, "symbolOpacity": 0, "symbolStrokeWidth": 0, "rowPadding": 1.2,
            "encode": {"labels": {"update": {"fill": {"scale": "color", "field": "value"}}}}
          }
        }
      }
    },
    {
      "data": {"name": "limit"},
      "mark": {"type": "line", "color": "#3a3a9c", "strokeWidth": 1.3},
      "encoding": {
        "x": {"field": "f", "type": "quantitative",
          "scale": {"type": "log", "domain": [0.008652, 30.6], "nice": false},
          "axis": {
            "orient": "top",
            "values": [0.00912, 0.009121, 0.009122, 0.10576, 0.1058, 13.42],
            "labelExpr": "datum.value < 0.0091205 ? '# = Ambient\u00a0\u00a0\u00a0\u00a0\u00a0\u00a0~ = QP Value' : datum.value < 0.0091215 ? 'Radiated Emissions (dBuV/m)' : datum.value < 0.05 ? 'Fleet Space Technologies' : datum.value < 0.10578 ? 'Job No:' : datum.value < 1 ? 'Test Date:' : 'Graph No.\u00a0\u00a06'",
            "labelColor": {"condition": {"test": "datum.value > 0.0091205 && datum.value < 0.05", "value": "#000000"}, "value": "#1f1f8f"},
            "labelFontWeight": "bold",
            "labelFontSize": {"condition": {"test": "datum.value < 0.10578", "value": 14}, "value": 8.5},
            "labelAlign": "left", "labelBaseline": "middle", "labelLimit": 600,
            "labelPadding": {"condition": [
              {"test": "datum.value < 0.0091205", "value": 8.9},
              {"test": "datum.value < 0.0091215", "value": 23.9},
              {"test": "datum.value < 0.05", "value": 105.5},
              {"test": "datum.value < 0.10578", "value": 39.5},
              {"test": "datum.value < 1", "value": 26.8}
            ], "value": 10.2},
            "labelOverlap": false, "labelBound": false, "labelFlush": false,
            "ticks": false, "tickSize": 0, "domain": false, "grid": false,
            "title": ["Test Officer:-Plot date:20-05-2022 13:38:51", "t:A3100822E c1:C4780223\u00a0\u00a0c2:C4630223\u00a0\u00a0c3:NONE p:NONE a:None", "Site ID:"],
            "titleColor": "#1f1f8f", "titleFontSize": 8.5, "titleFontWeight": "bold",
            "titleAngle": 0, "titleAlign": "left", "titleBaseline": "top",
            "titleX": 474, "titleY": -40, "titleLineHeight": 13.3, "titleLimit": 1000
          }
        },
        "y": {"field": "v", "type": "quantitative",
          "scale": {"domain": [-1.06, 141.19], "nice": false, "zero": false},
          "axis": {
            "orient": "right",
            "labels": false, "ticks": false, "domain": false, "grid": false,
            "title": ["WintstRS:32-Wplt:164 Rev:39-Rx:R&S,ESW-26,1328.4100", "Below 1 GHz"],
            "titleColor": "#1f1f8f", "titleFontSize": 8.5, "titleFontWeight": "bold",
            "titleAngle": 0, "titleAlign": "left", "titleBaseline": "top",
            "titleX": -240.5, "titleY": -40, "titleLineHeight": 16, "titleLimit": 1000
          }
        },
        "order": {"field": "i", "type": "quantitative"}
      }
    }
  ]
}
